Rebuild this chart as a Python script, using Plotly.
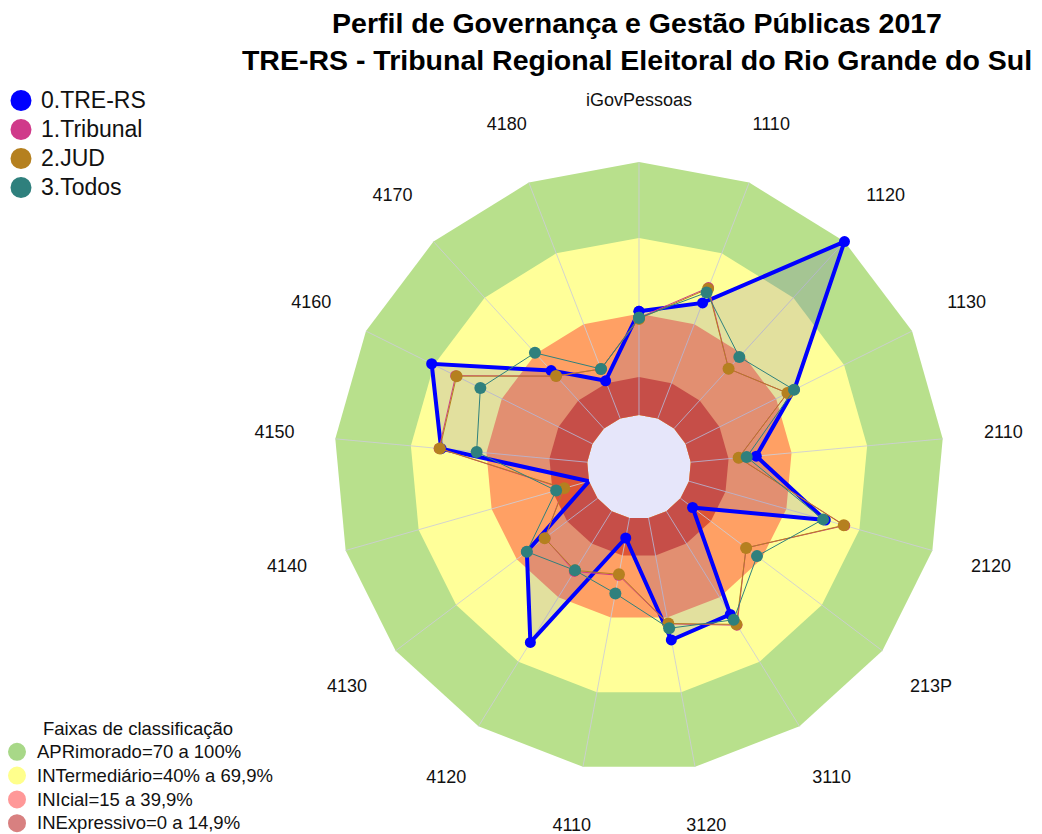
import plotly.graph_objects as go

# ---------------- data ----------------
categories = ["iGovPessoas", "1110", "1120", "1130", "2110", "2120", "213P", "3110",
              "3120", "4110", "4120", "4130", "4140", "4150", "4160", "4170", "4180"]

tre_rs   = [41, 49, 100, 48, 26, 56, 6, 48, 49, 8, 61, 35, 0, 58, 71, 31, 16]
tribunal = [38.5, 55.5, 32, 45, 19, 64, 32.5, 53, 42.5, 23, 28, 26, 10.5, 58.8, 60.4, 28, 21]
jud      = [38, 55, 32, 45, 19, 63.6, 32.5, 52.6, 42.4, 22.6, 27.5, 26.2, 10.2, 58.5, 60, 28.1, 21]
todos    = [38.4, 53.4, 38.3, 47.9, 22.2, 55.1, 37.9, 50.5, 44.3, 30.3, 27.5, 35, 13.5, 43.9, 49.5, 40.5, 21]

series_names = ["0.TRE-RS", "1.Tribunal", "2.JUD", "3.Todos"]

band_names = ["APRimorado=70 a 100%", "INTermediário=40% a 69,9%",
              "INIcial=15 a 39,9%", "INExpressivo=0 a 14,9%"]
band_limits = [100, 70, 40, 15]

title_lines = ["Perfil de Governança e Gestão Públicas 2017",
               "TRE-RS - Tribunal Regional Eleitoral do Rio Grande do Sul"]
legend2_title = "Faixas de classificação"

# ---------------- styles ----------------
series_colors = ["#0000ff", "#d03a8a", "#b5801f", "#2f807d"]
series_widths = [4, 1, 1, 1]
series_msize = [11, 11, 12, 12]
band_fill = ["#b8e08c", "#ffff99", "#ffa064", "#de5434"]
band_legend_colors = ["#a8d888", "#ffff8c", "#ff9898", "#d88080"]
FONT = "Liberation Sans, Arial, sans-serif"

PAGE_OFF = 8                       # default body margin of the html page
W, H = 1042 - PAGE_OFF, 834 - PAGE_OFF
cx, cy = 639 - PAGE_OFF, 467 - PAGE_OFF   # polar centre (figure px)
R_in = 52.0                        # hole radius (px)
SCALE = 2.53                       # px per radial unit
R_MAX = 124.4                      # radial range max (room for the label ring)
R_out = R_in + R_MAX * SCALE       # outer radius of polar area (px)
R_LABEL_PX = 366                   # radius of the category label ring (px)
label_r = (R_LABEL_PX - R_in) / SCALE

def closed(seq):
    return list(seq) + [seq[0]]

def span(txt, size):
    return '<span style="font-size:%spx">%s</span>' % (size, txt)

fig = go.Figure()

# lavender centre disc (separate subplot under the hole)
fig.add_trace(go.Scatterpolar(r=[None], theta=[categories[0]], subplot="polar",
                              showlegend=False, hoverinfo="skip"))

# classification bands
for name, lim, col in zip(band_names, band_limits, band_fill):
    fig.add_trace(go.Scatterpolar(
        r=closed([lim] * len(categories)), theta=closed(categories),
        mode="lines", line=dict(width=0, color=col), fill="toself", fillcolor=col,
        subplot="polar2", showlegend=False, hoverinfo="skip"))

# spokes
spoke_r, spoke_t = [], []
for c in categories:
    spoke_r += [0, band_limits[0], None]
    spoke_t += [c, c, None]
fig.add_trace(go.Scatterpolar(r=spoke_r, theta=spoke_t, mode="lines",
                              line=dict(color="rgba(205,205,215,0.85)", width=1),
                              subplot="polar2", showlegend=False, hoverinfo="skip"))

# data series
all_series = [tre_rs, tribunal, jud, todos]
for i, (nm, vals, col) in enumerate(zip(series_names, all_series, series_colors)):
    fig.add_trace(go.Scatterpolar(
        r=closed(vals), theta=closed(categories), name=nm, legendgroup=nm,
        mode="lines+markers",
        line=dict(color=col, width=series_widths[i]),
        marker=dict(color=col, size=series_msize[i]),
        fill="toself" if i == 0 else "none",
        fillcolor="rgba(60,50,190,0.15)",
        subplot="polar2", showlegend=False))

# category labels (ring of centred text)
fig.add_trace(go.Scatterpolar(
    r=[label_r] * len(categories), theta=categories, text=categories,
    mode="text", textposition="middle center", cliponaxis=False,
    textfont=dict(family=FONT, size=18, color="#111111"),
    subplot="polar2", showlegend=False, hoverinfo="skip"))

# legend entries (series)
for nm, col in zip(series_names, series_colors):
    fig.add_trace(go.Scatterpolar(
        r=[None], theta=[categories[0]], name=span(nm, 23), legendgroup=nm, mode="markers",
        marker=dict(color=col, size=16, line=dict(color=col, width=5)),
        subplot="polar2", legend="legend"))

# legend entries (bands)
for nm, col in zip(band_names, band_legend_colors):
    fig.add_trace(go.Scatterpolar(
        r=[None], theta=[categories[0]], name=span(nm, 18.5), mode="markers",
        marker=dict(color=col, size=16, line=dict(color=col, width=2)),
        subplot="polar2", legend="legend2"))

main_dom_x = [(cx - R_out) / W, (cx + R_out) / W]
main_dom_y = [max(0.0, (H - cy - R_out) / H), min(1.0, (H - cy + R_out) / H)]
hole_dom_x = [(cx - R_in) / W, (cx + R_in) / W]
hole_dom_y = [(H - cy - R_in) / H, (H - cy + R_in) / H]

fig.update_layout(
    template="none",
    width=W, height=H, autosize=False,
    margin=dict(l=0, r=0, t=0, b=0, autoexpand=False),
    paper_bgcolor="white",
    font=dict(family=FONT, color="#111111"),
    title=dict(text="<b>" + "<br>".join(title_lines) + "</b>",
               x=(637 - PAGE_OFF) / W, xanchor="center", xref="container",
               y=1 - 24.5 / H, yanchor="top", yref="container",
               font=dict(family=FONT, size=28.5, color="black")),
    polar=dict(
        domain=dict(x=hole_dom_x, y=hole_dom_y),
        bgcolor="#e6e6fa",
        angularaxis=dict(visible=False),
        radialaxis=dict(visible=False),
    ),
    polar2=dict(
        domain=dict(x=main_dom_x, y=main_dom_y),
        hole=R_in / R_out,
        bgcolor="rgba(0,0,0,0)",
        gridshape="linear",
        angularaxis=dict(direction="clockwise", rotation=90, showgrid=False,
                         showline=False, ticks="", type="category",
                         showticklabels=False,
                         categoryorder="array", categoryarray=categories),
        radialaxis=dict(visible=False, range=[0, R_MAX], showgrid=False),
    ),
    legend=dict(x=-7 / W, y=1 - 73 / H, xref="paper", yref="paper",
                xanchor="left", yanchor="top", bgcolor="rgba(0,0,0,0)",
                font=dict(family=FONT, size=20, color="#111111"),
                traceorder="normal"),
    legend2=dict(x=-11 / W, y=1 - 697 / H, xref="paper", yref="paper",
                 xanchor="left", yanchor="top", bgcolor="rgba(0,0,0,0)",
                 title=dict(text=span(legend2_title, 18.5), side="top center",
                            font=dict(family=FONT, size=23, color="#111111")),
                 font=dict(family=FONT, size=16, color="#111111"),
                 traceorder="normal"),
)

fig.write_html("out.html")
